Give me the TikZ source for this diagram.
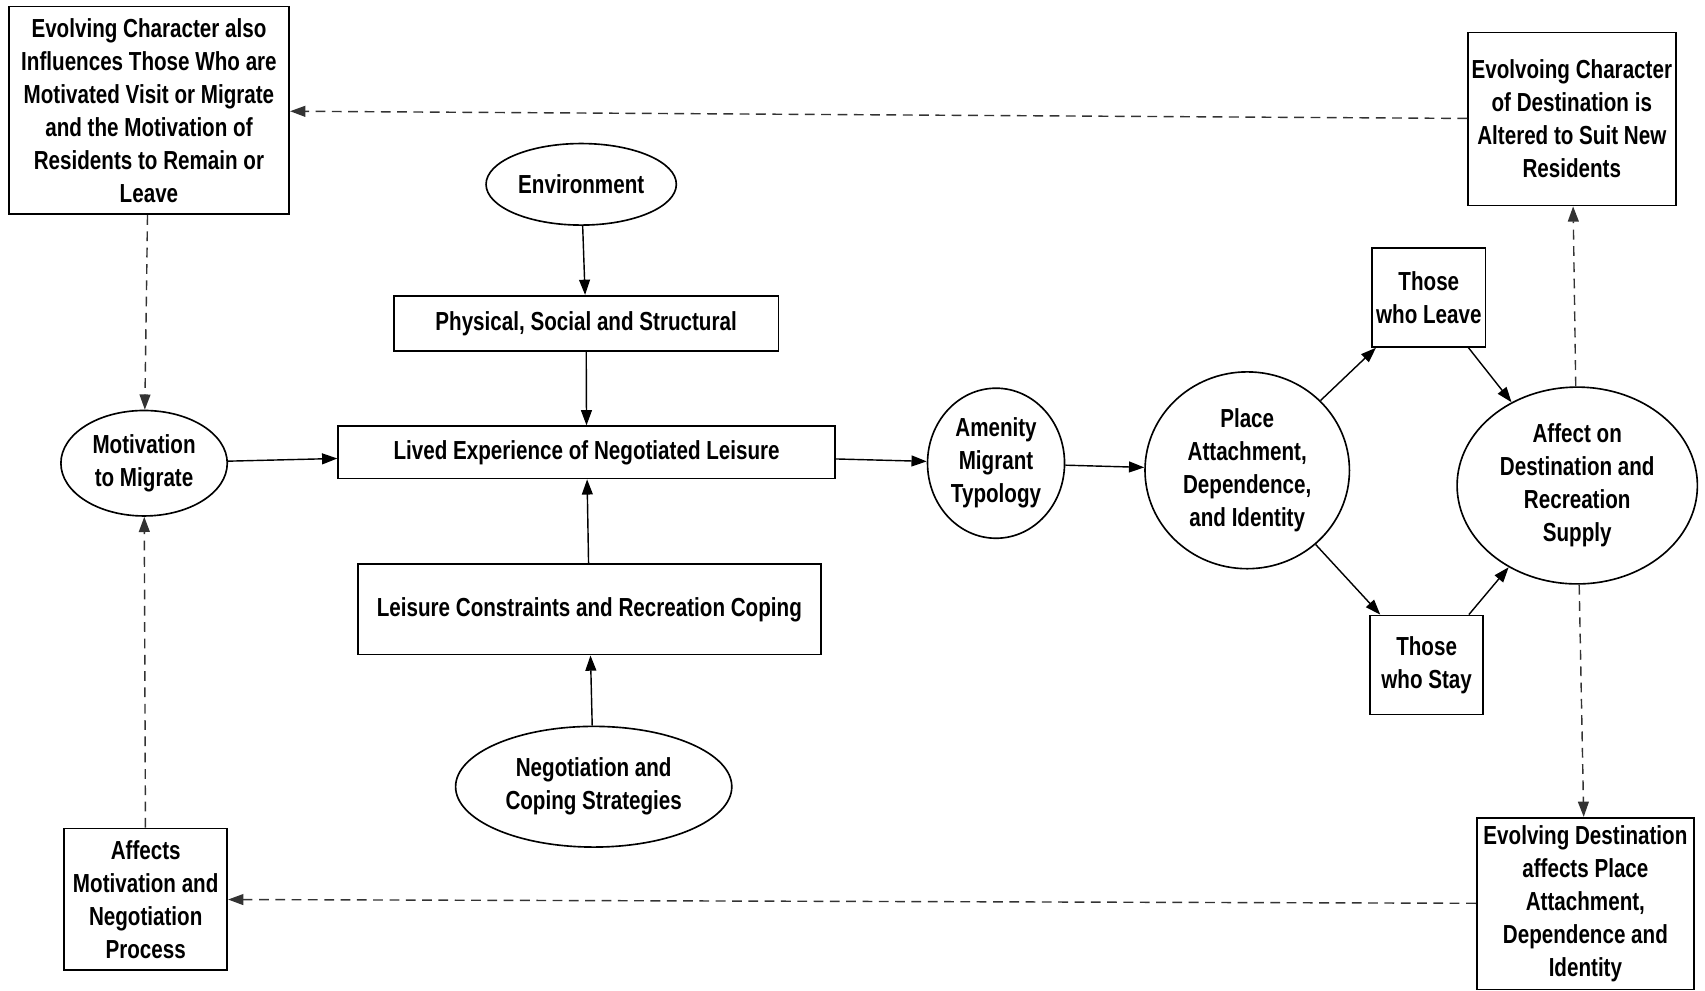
\documentclass[tikz,border=0pt]{standalone}
\usepackage{fontspec}
\setmainfont{Liberation Sans}[FakeStretch=0.79]
\usetikzlibrary{arrows.meta,shapes.geometric}
\newcommand{\mainfnt}{\fontsize{24}{30.3}\selectfont\bfseries}
\begin{document}
\begin{tikzpicture}[x=1pt,y=-1pt,
  box/.style={draw, line width=1.6pt, rectangle, inner sep=0pt, align=center, font=\mainfnt},
  oval/.style={draw, line width=1.5pt, ellipse, inner sep=0pt, align=center, font=\mainfnt},
  conn/.style={line width=1.3pt, -{Triangle[length=14pt,width=10pt]}},
  dconn/.style={line width=1.3pt, black!80, dash pattern=on 9pt off 6pt, -{Triangle[length=14pt,width=10pt]}}]
\useasboundingbox (0,0) rectangle (1568,911);
% boxes
\node[box, minimum width=258pt, minimum height=191pt] (TL) at (137,101.5)
  {Evolving Character also\\Influences Those Who are\\Motivated Visit or Migrate\\and the Motivation of\\Residents to Remain or\\Leave};
\node[box, minimum width=191pt, minimum height=159pt] (TR) at (1445.5,109.5)
  {Evolvoing Character\\of Destination is\\Altered to Suit New\\Residents};
\node[box, minimum width=354pt, minimum height=51pt] (Phys) at (539,297.5)
  {Physical, Social and Structural};
\node[box, minimum width=457pt, minimum height=48pt] (Lived) at (539.5,416)
  {Lived Experience of Negotiated Leisure};
\node[box, minimum width=426pt, minimum height=83pt] (Leis) at (542,560.5)
  {Leisure Constraints and Recreation Coping};
\node[box, minimum width=104pt, minimum height=91pt] (Leave) at (1314,273.5)
  {Those\\who Leave};
\node[box, minimum width=104pt, minimum height=91pt] (Stay) at (1312,611.5)
  {Those\\who Stay};
\node[box, minimum width=150pt, minimum height=130pt] (Aff) at (134,827)
  {Affects\\Motivation and\\Negotiation\\Process};
\node[box, minimum width=200pt, minimum height=158pt] (BR) at (1458,831)
  {Evolving Destination\\affects Place\\Attachment,\\Dependence and\\Identity};
% ovals
\node[oval, minimum width=175pt, minimum height=75pt] (Env) at (534.5,169.5) {Environment};
\node[oval, minimum width=254pt, minimum height=111pt] (Neg) at (546,723.5) {Negotiation and\\Coping Strategies};
\node[oval, minimum width=153pt, minimum height=97pt] (Mot) at (132.5,426) {Motivation\\to Migrate};
\node[oval, minimum width=126pt, minimum height=138pt] (Amen) at (916,426) {Amenity\\Migrant\\Typology};
\node[oval, minimum width=188pt, minimum height=181pt] (Place) at (1147,432.5) {Place\\Attachment,\\Dependence,\\and Identity};
\node[oval, minimum width=221pt, minimum height=181pt] (Affect) at (1450.5,446.5) {Affect on\\Destination and\\Recreation\\Supply};
% solid connectors
\draw[conn] (Env) -- (Phys);
\draw[conn] (Phys) -- (Lived);
\draw[conn] (Leis) -- (Lived);
\draw[conn] (Neg) -- (Leis);
\draw[conn] (Mot) -- (Lived);
\draw[conn] (Lived) -- (Amen);
\draw[conn] (Amen) -- (Place);
\draw[conn] (Place) -- (Leave);
\draw[conn] (Place) -- (Stay);
\draw[conn] (Leave) -- (Affect);
\draw[conn] (Stay) -- (Affect);
% dashed connectors
\draw[dconn] (TR) -- (TL);
\draw[dconn] (TL) -- (Mot);
\draw[dconn] (Aff) -- (Mot);
\draw[dconn] (Affect) -- (TR);
\draw[dconn] (Affect) -- (BR);
\draw[dconn] (BR) -- (Aff);
\end{tikzpicture}
\end{document}
